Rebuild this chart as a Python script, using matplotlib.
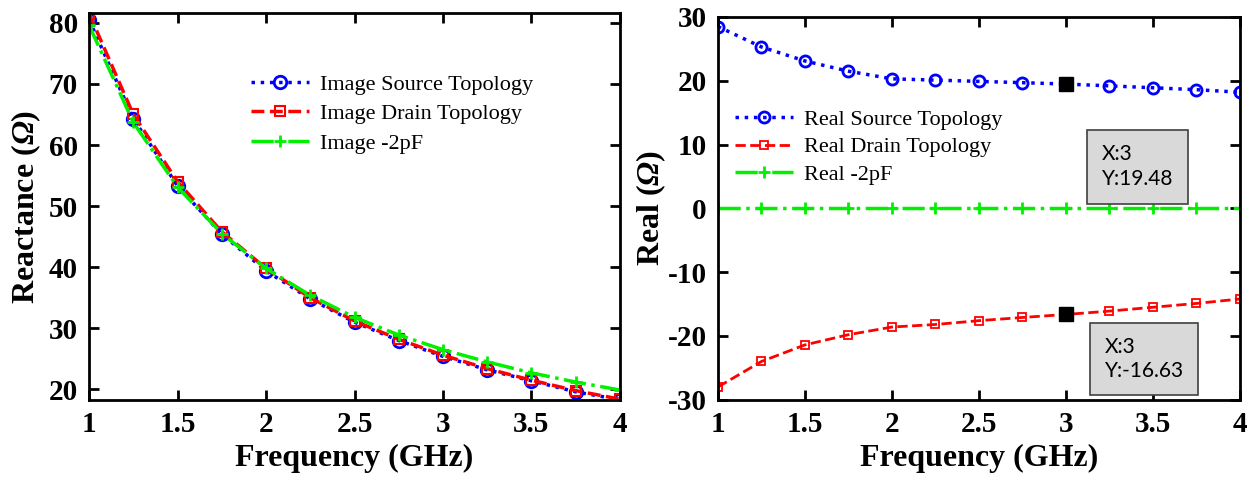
import matplotlib.pyplot as plt

plt.rcParams['font.family'] = ['Liberation Serif', 'DejaVu Serif']
plt.rcParams['mathtext.fontset'] = 'custom'
plt.rcParams['mathtext.it'] = 'Liberation Serif:bold:italic'
plt.rcParams['mathtext.bf'] = 'Liberation Serif:bold:italic'
plt.rcParams['mathtext.rm'] = 'Liberation Serif:bold:italic'

freq = [1.0, 1.25, 1.5, 1.75, 2.0, 2.25, 2.5, 2.75, 3.0, 3.25, 3.5, 3.75, 4.0]

# reactance (left)
img_source = [80.5, 64.3, 53.3, 45.4, 39.4, 34.8, 31.0, 28.0, 25.4, 23.2, 21.4, 19.6, 18.3]
img_drain = [81.5, 65.0, 54.0, 45.8, 39.8, 35.0, 31.2, 28.2, 25.6, 23.4, 21.5, 19.8, 18.4]
img_2pf = [79.6, 63.7, 53.1, 45.5, 39.8, 35.4, 31.8, 28.9, 26.5, 24.5, 22.7, 21.2, 19.9]

# real part (right)
real_source = [28.5, 25.3, 23.1, 21.5, 20.3, 20.1, 19.9, 19.7, 19.48, 19.2, 18.9, 18.6, 18.2]
real_drain = [-28.0, -24.0, -21.4, -19.8, -18.6, -18.2, -17.6, -17.1, -16.63, -16.1, -15.5, -14.9, -14.2]
real_2pf = [0, 0, 0, 0, 0, 0, 0, 0, 0, 0, 0, 0, 0]

tip_x = 3
tip_source = 19.48
tip_drain = -16.63

blue = "#0000ff"
red = "#ff0000"
green = "#00f000"

fig = plt.figure(figsize=(12.55, 4.84), dpi=100)
ax1 = fig.add_axes([0.071, 0.174, 0.423, 0.799])
ax2 = fig.add_axes([0.572, 0.174, 0.416, 0.791])


def style(ax):
    ax.tick_params(direction="in", top=True, right=True, length=7, width=2,
                   labelsize=21, pad=8)
    for s in ax.spines.values():
        s.set_linewidth(2)
    ax.set_xlim(1, 4)
    ax.set_xticks([1, 1.5, 2, 2.5, 3, 3.5, 4])
    ax.set_xticklabels(["1", "1.5", "2", "2.5", "3", "3.5", "4"], fontweight="bold")
    ax.set_xlabel("Frequency (GHz)", fontsize=23, fontweight="bold", labelpad=4)


# left panel
ax1.plot(freq, img_source, ":", color=blue, lw=2.5, marker="o", ms=9,
         mfc="none", mew=2, label="Image Source Topology")
ax1.plot(freq, img_drain, "--", color=red, lw=2.5, marker="s", ms=7,
         mfc="none", mew=1.5, label="Image Drain Topology")
ax1.plot(freq, img_2pf, "-.", color=green, lw=2.5, marker="+", ms=9,
         mew=2, label="Image -2pF")
ax1.set_ylim(18.3, 81.6)
ax1.set_yticks([20, 30, 40, 50, 60, 70, 80])
ax1.set_yticklabels(["20", "30", "40", "50", "60", "70", "80"], fontweight="bold")
style(ax1)
ax1.set_ylabel(r"Reactance ($\Omega$)", fontsize=23, fontweight="bold", labelpad=4)
ax1.legend(loc="upper left", bbox_to_anchor=(0.268, 0.894), frameon=False,
           fontsize=16, handlelength=2.6, handletextpad=0.5, labelspacing=0.4)

# right panel
ax2.plot(freq, real_source, ":", color=blue, lw=2.5, marker="o", ms=8,
         mfc="none", mew=2, label="Real Source Topology")
ax2.plot(freq, real_drain, "--", color=red, lw=2, marker="s", ms=6,
         mfc="none", mew=1.3, label="Real Drain Topology")
ax2.plot(freq, real_2pf, "-.", color=green, lw=2.5, marker="+", ms=9,
         mew=2, label="Real -2pF")
ax2.plot([tip_x, tip_x], [tip_source, tip_drain], "s", color="black", ms=10, ls="none")
ax2.set_ylim(-30, 30)
ax2.set_yticks([-30, -20, -10, 0, 10, 20, 30])
ax2.set_yticklabels(["-30", "-20", "-10", "0", "10", "20", "30"], fontweight="bold")
style(ax2)
ax2.set_ylabel(r"Real ($\Omega$)", fontsize=23, fontweight="bold", labelpad=0)
ax2.legend(loc="upper left", bbox_to_anchor=(-0.006, 0.81), frameon=False,
           fontsize=16, handlelength=2.6, handletextpad=0.5, labelspacing=0.3)

box = dict(boxstyle="square,pad=0.7", fc="#d9d9d9", ec="#404040", lw=1.2)
ax2.text(3.207, 6.5, "X:%d\nY:%.2f" % (tip_x, tip_source), family="Lato", fontsize=15,
         va="center", ha="left", bbox=box, linespacing=1.3)
ax2.text(3.222, -23.6, "X:%d\nY:%.2f" % (tip_x, tip_drain), family="Lato", fontsize=15,
         va="center", ha="left", bbox=box, linespacing=1.2)

fig.savefig("out.png", dpi=100)
